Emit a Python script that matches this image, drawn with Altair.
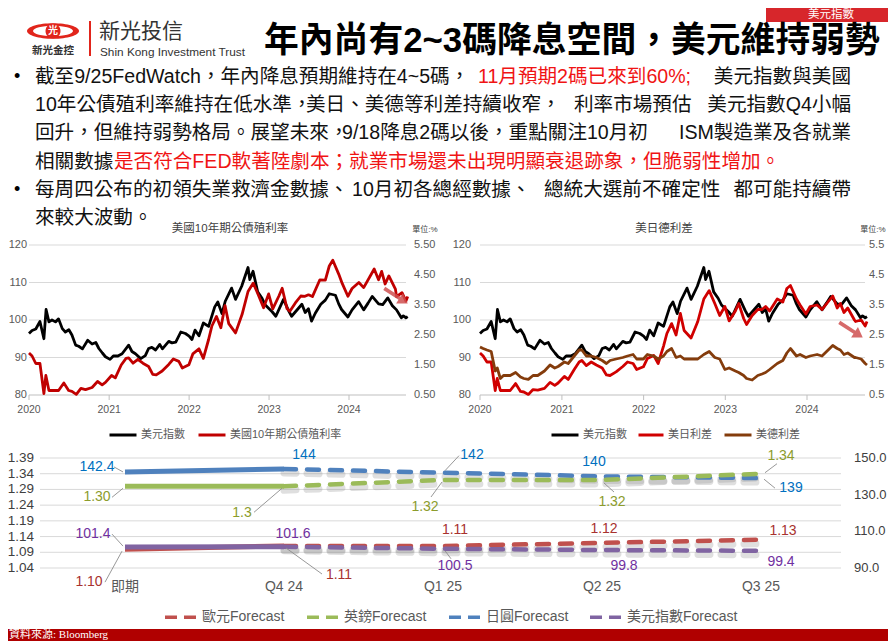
import altair as alt
import pandas as pd

# ---------------- data ----------------
dxy_dates = ["2020-01-01","2020-01-15","2020-02-01","2020-02-20","2020-03-09","2020-03-19","2020-04-01","2020-04-15","2020-05-01","2020-05-15","2020-06-01","2020-06-15","2020-07-01","2020-07-15","2020-08-01","2020-08-15","2020-09-01","2020-09-25","2020-10-15","2020-11-01","2020-11-15","2020-12-01","2020-12-15",
             "2021-01-05","2021-01-20","2021-02-10","2021-03-01","2021-03-31","2021-04-15","2021-05-01","2021-05-25","2021-06-15","2021-06-30","2021-07-15","2021-08-01","2021-08-20","2021-09-01","2021-09-30","2021-10-15","2021-11-01","2021-11-24","2021-12-15",
             "2022-01-01","2022-01-14","2022-01-28","2022-02-15","2022-03-07","2022-03-31","2022-04-28","2022-05-12","2022-05-31","2022-06-15","2022-07-14","2022-08-01","2022-08-29","2022-09-27","2022-10-05","2022-10-20","2022-11-10","2022-11-30","2022-12-15",
             "2023-01-15","2023-02-01","2023-03-08","2023-03-31","2023-04-14","2023-05-31","2023-06-15","2023-06-30","2023-07-14","2023-07-31","2023-08-25","2023-09-15","2023-10-03","2023-10-31","2023-11-15","2023-11-28","2023-12-27",
             "2024-01-15","2024-02-14","2024-03-08","2024-03-28","2024-04-16","2024-05-15","2024-06-03","2024-06-26","2024-07-17","2024-08-05","2024-08-27","2024-09-05","2024-09-17","2024-09-25"]
dxy_values = [96.4,97.2,97.6,99.6,95.0,102.8,99.5,100.0,99.5,100.3,97.7,96.8,97.4,96.0,93.3,93.0,92.3,94.6,93.6,94.0,92.4,91.2,90.2,
              89.5,90.4,90.4,91.0,93.3,91.6,91.0,89.7,90.5,92.4,92.7,92.0,93.5,92.3,94.3,93.9,94.1,96.8,96.4,
              95.7,94.8,97.3,95.8,99.2,98.3,103.5,104.8,101.7,105.0,108.5,105.5,109.0,114.0,110.8,113.0,107.5,105.8,104.0,
              102.2,101.0,105.5,102.5,101.0,104.2,102.0,103.0,99.7,101.8,104.2,105.3,107.0,106.6,104.3,102.8,100.8,
              102.7,104.9,102.7,104.5,106.3,104.3,104.1,105.9,103.8,102.7,100.6,101.1,100.6,100.9]

rate_dates = ["2020-01-01","2020-01-15","2020-02-01","2020-02-20","2020-03-09","2020-03-18","2020-04-01","2020-04-15","2020-05-15","2020-06-08","2020-06-30","2020-07-15","2020-08-04","2020-08-25","2020-09-15","2020-10-15","2020-11-09","2020-11-30","2020-12-15",
              "2021-01-12","2021-01-29","2021-02-25","2021-03-19","2021-03-31","2021-04-20","2021-05-12","2021-06-04","2021-06-30","2021-07-19","2021-08-04","2021-08-31","2021-09-30","2021-10-21","2021-11-15","2021-12-01","2021-12-31",
              "2022-01-18","2022-02-15","2022-03-07","2022-03-31","2022-04-15","2022-05-06","2022-05-26","2022-06-14","2022-07-01","2022-08-01","2022-08-31","2022-09-27","2022-10-21","2022-11-15","2022-12-07","2022-12-30",
              "2023-01-18","2023-02-15","2023-03-02","2023-03-24","2023-04-06","2023-05-01","2023-05-26","2023-06-14","2023-06-30","2023-07-18","2023-08-21","2023-09-15","2023-10-03","2023-10-19","2023-11-15","2023-12-01","2023-12-27",
              "2024-01-15","2024-02-15","2024-03-08","2024-04-25","2024-05-15","2024-05-29","2024-06-14","2024-07-01","2024-07-31","2024-08-05","2024-08-30","2024-09-17","2024-09-25"]
ust10y_values = [1.90,1.80,1.55,1.55,0.55,1.15,0.65,0.65,0.65,0.90,0.65,0.62,0.52,0.72,0.68,0.75,0.95,0.84,0.92,
                 1.15,1.07,1.50,1.72,1.74,1.56,1.69,1.56,1.45,1.19,1.17,1.30,1.52,1.70,1.62,1.40,1.51,
                 1.87,2.04,1.72,2.35,2.80,3.12,2.74,3.48,2.88,2.57,3.19,3.95,4.23,3.80,3.41,3.87,
                 3.37,3.80,4.06,3.38,3.29,3.57,3.80,3.79,3.84,3.78,4.34,4.33,4.80,4.99,4.53,4.22,3.79,
                 4.05,4.25,4.08,4.70,4.34,4.62,4.20,4.47,4.03,3.78,3.91,3.63,3.78]
us_jp_values = [1.90,1.80,1.60,1.60,0.65,1.05,0.65,0.65,0.65,0.88,0.62,0.60,0.52,0.68,0.66,0.72,0.92,0.82,0.90,
                1.12,1.02,1.35,1.60,1.65,1.48,1.60,1.50,1.40,1.17,1.15,1.27,1.45,1.60,1.55,1.35,1.44,
                1.72,1.82,1.55,2.13,2.55,2.88,2.50,3.22,2.65,2.40,2.95,3.70,3.98,3.55,3.15,3.45,
                2.97,3.30,3.55,3.05,2.85,3.15,3.35,3.35,3.45,3.30,3.70,3.60,4.05,4.15,3.70,3.50,3.20,
                3.45,3.50,3.35,3.80,3.40,3.55,3.25,3.40,3.00,2.95,3.00,2.80,2.95]
us_de_values = [2.10,2.05,2.00,1.95,1.30,1.40,1.05,1.15,1.15,1.25,1.10,1.05,1.02,1.15,1.15,1.30,1.50,1.40,1.45,
                1.60,1.55,1.80,2.00,2.00,1.80,1.80,1.75,1.65,1.55,1.65,1.70,1.75,1.80,1.85,1.70,1.70,
                1.85,1.80,1.70,1.80,1.95,2.05,1.75,1.80,1.70,1.70,1.70,1.85,1.95,1.75,1.70,1.35,
                1.40,1.30,1.25,1.15,1.05,1.00,1.15,1.20,1.25,1.35,1.55,1.65,1.90,2.05,1.80,1.85,1.75,
                1.80,1.85,1.80,2.15,2.05,2.00,1.85,1.90,1.75,1.75,1.70,1.55,1.50]

year_labels = ["2020", "2021", "2022", "2023", "2024"]
top_left_ticks = [80, 90, 100, 110, 120]
top_right_ticks = [0.5, 1.5, 2.5, 3.5, 4.5, 5.5]

fc_periods = ["即期", "Q4 24", "Q1 25", "Q2 25", "Q3 25"]
eur_fc = [1.10, 1.11, 1.11, 1.12, 1.13]
gbp_fc = [1.30, 1.30, 1.32, 1.32, 1.34]
jpy_fc = [142.4, 144, 142, 140, 139]
dxy_fc = [101.4, 101.6, 100.5, 99.8, 99.4]
eur_lab = ["1.10", "1.11", "1.11", "1.12", "1.13"]
gbp_lab = ["1.30", "1.3", "1.32", "1.32", "1.34"]
jpy_lab = ["142.4", "144", "142", "140", "139"]
dxy_lab = ["101.4", "101.6", "100.5", "99.8", "99.4"]
fc_left_ticks = [1.04, 1.09, 1.14, 1.19, 1.24, 1.29, 1.34, 1.39]
fc_right_ticks = [90, 110, 130, 150]

title_text = "年內尚有2~3碼降息空間，美元維持弱勢"
bullet_segments = [
    ("截至9/25FedWatch，年內降息預期維持在4~5碼，", "k"),
    ("11月預期2碼已來到60%;", "r"),
    ("美元指數與美國", "k"),
    ("10年公債殖利率維持在低水準，", "k"),
    ("美日、美德等利差持續收窄，", "k"),
    ("利率市場預估", "k"),
    ("美元指數Q4小幅", "k"),
    ("回升，但維持弱勢格局。展望未來，", "k"),
    ("9/18降息2碼以後，重點關注10月初", "k"),
    ("ISM製造業及各就業", "k"),
    ("相關數據", "k"),
    ("是否符合FED軟著陸劇本；就業市場還未出現明顯衰退跡象，但脆弱性增加。", "r"),
    ("每周四公布的初領失業救濟金數據、", "k"),
    ("10月初各總經數據、", "k"),
    ("總統大選前不確定性", "k"),
    ("都可能持續帶", "k"),
    ("來較大波動。", "k"),
]
# layout of the segments (page x, page y, align)
bullet_layout = [
    (35, 77, "left"), (478, 77, "left"), (851, 77, "right"),
    (35, 105, "left"), (306, 105, "left"), (574, 105, "left"), (851, 105, "right"),
    (35, 133, "left"), (342, 133, "left"), (851, 133, "right"),
    (35, 162, "left"), (114, 162, "left"),
    (35, 190, "left"), (352, 190, "left"), (544, 190, "left"), (851, 190, "right"),
    (35, 218, "left"),
]
# label offsets (dx, dy) and leader segments (x1, y1, x2, y2) relative to points
fc_label_offsets = {
    "日圓Forecast": [(-28, -5), (20, -14), (29, -18), (-8, -14), (30, 10)],
    "英鎊Forecast": [(-28, 11), (-42, 27), (-18, 27), (10, 22), (20, -18)],
    "歐元Forecast": [(-36, 33), (55, 29), (12, -16), (2, -14), (22, -9)],
    "美元指數Forecast": [(-32, -13), (9, -13), (12, 17), (22, 16), (20, 11)],
}
fc_leaders = {
    "日圓Forecast": {0: (-11, -5, -2, 0), 2: (16, -17, 2, -2), 4: (3, 1, 14, 10)},
    "英鎊Forecast": {0: (-13, 11, -2, 2), 1: (-30, 26, -2, 2), 2: (-12, 17, -1, 2), 3: (2, 3, 12, 12), 4: (4, -1, 16, -10)},
    "歐元Forecast": {0: (-20, 33, -3, 2), 1: (38, 28, 2, 2)},
    "美元指數Forecast": {0: (-13, -13, -2, -1), 2: (2, 2, 8, 10)},
}

# ---------------- helpers ----------------
FONT = "Liberation Sans, Noto Sans CJK TC, sans-serif"
OX = OY = 8
W, H = 880, 633
GREY = "#595959"


def px(v):
    return v - OX


def py(v):
    return v - OY


layers = []


def one():
    return pd.DataFrame({"k": [0]})


def text(s, x, y, size, color="#000000", weight="normal", align="left", font=FONT):
    layers.append(alt.Chart(pd.DataFrame({"t": [s]})).mark_text(
        align=align, baseline="middle", fontSize=size, color=color, fontWeight=weight, font=font
    ).encode(x=alt.value(px(x)), y=alt.value(py(y)), text="t:N"))


def rect(x1, y1, x2, y2, color):
    layers.append(alt.Chart(one()).mark_rect(color=color).encode(
        x=alt.value(px(x1)), x2=alt.value(px(x2)), y=alt.value(py(y1)), y2=alt.value(py(y2))))


K = 0.5523


def ellipse_path(b):
    return (f"M-1,0 C-1,{-K*b:.3f} {-K:.3f},{-b} 0,{-b} C{K:.3f},{-b} 1,{-K*b:.3f} 1,0 "
            f"C1,{K*b:.3f} {K:.3f},{b} 0,{b} C{-K:.3f},{b} -1,{K*b:.3f} -1,0 Z")


ARROW = "M-1,-0.13 L0.3,-0.13 L0.3,-0.45 L1,0 L0.3,0.45 L0.3,0.13 L-1,0.13 Z"


def symbol(path, x, y, size, color, angle=0, opacity=1.0):
    layers.append(alt.Chart(one()).mark_point(
        shape=path, filled=True, size=size, color=color, angle=angle, opacity=opacity, strokeWidth=0
    ).encode(x=alt.value(px(x)), y=alt.value(py(y))))


def leg(x, yc, length, sw=3.0, fs=11, dash=None):
    kw = dict(orient="none", legendX=px(x), legendY=py(yc) - (length + sw) / 2, title=None,
              symbolType="stroke", symbolSize=length * length, symbolStrokeWidth=sw,
              labelFont=FONT, labelFontSize=fs, labelColor=GREY, labelOffset=3, padding=0)
    if dash:
        kw["symbolDash"] = dash
    return alt.Legend(**kw)


# ---------------- header ----------------
rect(766, 8, 896, 22, "#d7262b")
text("美元指數", 831, 15, 11.5, "#ffffff", align="center")

symbol(ellipse_path(0.30), 53, 31, 52 * 52, "#e1251b")
symbol(ellipse_path(0.26), 53, 31, 40 * 40, "#ffffff")
symbol(ellipse_path(1.0), 53, 31, 15 * 15, "#e1251b")
text("光", 53, 31, 10, "#ffffff", weight="bold", align="center")
text("新光金控", 53, 51, 10.5, "#333333", weight="bold", align="center")
layers.append(alt.Chart(one()).mark_rule(color="#e1251b", strokeWidth=2).encode(
    x=alt.value(px(90)), y=alt.value(py(21)), y2=alt.value(py(56))))
text("新光投信", 99, 32, 21, "#333333")
text("Shin Kong Investment Trust", 100, 52, 11.8, "#333333")
text(title_text, 264, 42, 34.8, "#000000", weight="bold")

text("•", 14, 77, 18)
text("•", 14, 190, 18)
for (seg, col), (x, y, al) in zip(bullet_segments, bullet_layout):
    text(seg, x, y, 19.6, "#f01414" if col == "r" else "#111111", align=al)

# ---------------- top charts ----------------
d2020 = alt.DateTime(year=2020, month=1, date=1, utc=True)
d2024 = alt.DateTime(year=2024, month=1, date=1, utc=True)


def top_panel(x2020, x2024, gx1, gx2, lab_l, lab_r, rfmt, title, title_x, unit_x, series, legends):
    xs = alt.Scale(domain=[d2020, d2024], range=[px(x2020), px(x2024)], nice=False)
    yl = alt.Scale(domain=[80, 120], range=[py(395), py(245)], zero=False, nice=False)
    yr = alt.Scale(domain=[0.5, 5.5], range=[py(395), py(245)], zero=False, nice=False)
    layers.append(alt.Chart(pd.DataFrame({"v": top_left_ticks[1:]})).mark_rule(color="#d9d9d9", strokeWidth=1).encode(
        y=alt.Y("v:Q", scale=yl, axis=None), x=alt.value(px(gx1)), x2=alt.value(px(gx2))))
    layers.append(alt.Chart(pd.DataFrame({"v": top_left_ticks[:1]})).mark_rule(color="#bfbfbf", strokeWidth=1).encode(
        y=alt.Y("v:Q", scale=yl, axis=None), x=alt.value(px(gx1)), x2=alt.value(px(gx2))))
    ydf = pd.DataFrame({"d": [f"{y}-01-01" for y in year_labels], "lab": year_labels})
    layers.append(alt.Chart(ydf).mark_rule(color="#bfbfbf", strokeWidth=1).encode(
        x=alt.X("d:T", scale=xs, axis=None), y=alt.value(py(395)), y2=alt.value(py(400))))
    layers.append(alt.Chart(ydf).mark_text(fontSize=10.5, color=GREY, font=FONT, baseline="middle").encode(
        x=alt.X("d:T", scale=xs, axis=None), y=alt.value(py(410)), text="lab:N"))
    layers.append(alt.Chart(pd.DataFrame({"v": top_left_ticks})).mark_text(
        fontSize=11, color=GREY, font=FONT, align="right", baseline="middle").encode(
        y=alt.Y("v:Q", scale=yl, axis=None), x=alt.value(px(lab_l)), text=alt.Text("v:Q", format="d")))
    layers.append(alt.Chart(pd.DataFrame({"v": top_right_ticks})).mark_text(
        fontSize=11, color=GREY, font=FONT, align="left", baseline="middle").encode(
        y=alt.Y("v:Q", scale=yr, axis=None), x=alt.value(px(lab_r)), text=alt.Text("v:Q", format=rfmt)))
    text(title, title_x, 229, 11.5, "#404040", align="center")
    text("單位:%", unit_x, 230, 8, "#404040", align="center")
    for (dates, vals, name, color, axis_side), (lx, llen) in zip(series, legends):
        df = pd.DataFrame({"date": dates, "value": vals, "series": name})
        layers.append(alt.Chart(df).mark_line(strokeWidth=2.8, strokeJoin="round").encode(
            x=alt.X("date:T", scale=xs, axis=None),
            y=alt.Y("value:Q", scale=yl if axis_side == "L" else yr, axis=None),
            color=alt.Color("series:N", scale=alt.Scale(domain=[name], range=[color]),
                            legend=leg(lx, 435, llen))))


top_panel(29, 349, 29, 406, 27, 414, ".2f", "美國10年期公債殖利率", 230, 425,
          [(dxy_dates, dxy_values, "美元指數", "#000000", "L"),
           (rate_dates, ust10y_values, "美國10年期公債殖利率", "#c00000", "R")],
          [(108, 27), (197, 27)])
top_panel(480, 807, 480, 865, 471, 869, ".1f", "美日德利差", 664, 873,
          [(dxy_dates, dxy_values, "美元指數", "#000000", "L"),
           (rate_dates, us_jp_values, "美日利差", "#d00000", "R"),
           (rate_dates, us_de_values, "美德利差", "#843c0c", "R")],
          [(550, 27), (637, 25), (723, 27)])

symbol(ARROW, 396, 296, 28 * 28, "#cf5050", angle=33, opacity=0.85)
symbol(ARROW, 851, 330, 28 * 28, "#cf5050", angle=33, opacity=0.85)

# ---------------- bottom forecast chart ----------------
fc_x = alt.Scale(domain=[0, 4], range=[px(125), px(761)], zero=False, nice=False)


def fc_y(dom, shift=0):
    return alt.Scale(domain=dom, range=[py(568) + shift, py(458) + shift], zero=False, nice=False)


LDOM, RDOM = [1.04, 1.39], [90, 150]

layers.append(alt.Chart(pd.DataFrame({"v": fc_left_ticks})).mark_rule(color="#d9d9d9", strokeWidth=1).encode(
    y=alt.Y("v:Q", scale=fc_y(LDOM), axis=None), x=alt.value(px(40)), x2=alt.value(px(841))))
layers.append(alt.Chart(pd.DataFrame({"v": fc_left_ticks})).mark_text(
    fontSize=13.5, color="#404040", font=FONT, align="right", baseline="middle").encode(
    y=alt.Y("v:Q", scale=fc_y(LDOM), axis=None), x=alt.value(px(34)), text=alt.Text("v:Q", format=".2f")))
layers.append(alt.Chart(pd.DataFrame({"v": fc_right_ticks})).mark_text(
    fontSize=13, color="#404040", font=FONT, align="left", baseline="middle").encode(
    y=alt.Y("v:Q", scale=fc_y(RDOM), axis=None), x=alt.value(px(854)), text=alt.Text("v:Q", format=".1f")))
layers.append(alt.Chart(pd.DataFrame({"i": list(range(len(fc_periods))), "p": fc_periods})).mark_text(
    fontSize=14, color=GREY, font=FONT, baseline="middle").encode(
    x=alt.X("i:Q", scale=fc_x, axis=None), y=alt.value(py(587)), text="p:N"))

fc_series = [
    (jpy_fc, jpy_lab, "日圓Forecast", "#4f81bd", "#0070c0", RDOM, 447),
    (gbp_fc, gbp_lab, "英鎊Forecast", "#9bbb59", "#8c9c2c", LDOM, 305),
    (eur_fc, eur_lab, "歐元Forecast", "#c0504d", "#a8322e", LDOM, 163),
    (dxy_fc, dxy_lab, "美元指數Forecast", "#8064a2", "#7030a0", RDOM, 588),
]


def fc_df(vals, labs, name):
    return pd.DataFrame({"idx": list(range(len(vals))), "value": vals, "label": labs, "series": name})


# soft shadows under the forecast dashes
for vals, labs, name, color, tcolor, dom, lx in fc_series:
    layers.append(alt.Chart(fc_df(vals, labs, name)).transform_filter("datum.idx >= 1").mark_line(
        strokeWidth=7, strokeDash=[12, 11], strokeCap="round", color="#8c8c8c", opacity=0.28).encode(
        x=alt.X("idx:Q", scale=fc_x, axis=None), y=alt.Y("value:Q", scale=fc_y(dom, 4), axis=None)))
for vals, labs, name, color, tcolor, dom, lx in fc_series:
    layers.append(alt.Chart(fc_df(vals, labs, name)).transform_filter("datum.idx >= 1").mark_line(
        strokeWidth=4.5, strokeDash=[12, 11], strokeCap="round").encode(
        x=alt.X("idx:Q", scale=fc_x, axis=None), y=alt.Y("value:Q", scale=fc_y(dom), axis=None),
        color=alt.Color("series:N", scale=alt.Scale(domain=[name], range=[color]),
                        legend=leg(lx, 617, 32, sw=3.5, fs=14, dash=[12, 7]))))
for vals, labs, name, color, tcolor, dom, lx in fc_series:
    df = fc_df(vals, labs, name)
    layers.append(alt.Chart(df).transform_filter("datum.idx <= 1").mark_line(
        strokeWidth=5, color=color).encode(
        x=alt.X("idx:Q", scale=fc_x, axis=None), y=alt.Y("value:Q", scale=fc_y(dom), axis=None)))
    for i, (a, b, c, d) in fc_leaders[name].items():
        layers.append(alt.Chart(df).transform_filter(f"datum.idx == {i}").mark_rule(
            color="#8c8c8c", strokeWidth=0.9, xOffset=a, yOffset=b, x2Offset=c, y2Offset=d).encode(
            x=alt.X("idx:Q", scale=fc_x, axis=None), y=alt.Y("value:Q", scale=fc_y(dom), axis=None),
            x2=alt.X2("idx:Q"), y2=alt.Y2("value:Q")))
    for i, (dx, dy) in enumerate(fc_label_offsets[name]):
        layers.append(alt.Chart(df).transform_filter(f"datum.idx == {i}").mark_text(
            dx=dx, dy=dy, fontSize=14, color=tcolor, font=FONT, baseline="middle").encode(
            x=alt.X("idx:Q", scale=fc_x, axis=None), y=alt.Y("value:Q", scale=fc_y(dom), axis=None),
            text="label:N"))

# ---------------- footer ----------------
rect(0, 629, 896, 641, "#b00000")
text("資料來源: Bloomberg", 9, 635, 11, "#ffffff", font="Liberation Serif, Noto Sans CJK TC, serif")

chart = alt.layer(*layers).resolve_scale(
    x="independent", y="independent", color="independent"
).properties(
    width=W, height=H, autosize=alt.AutoSizeParams(type="none"), padding=0, background="white"
).configure_view(stroke=None)

chart.save("out.html", embed_options={"renderer": "svg", "actions": False})
